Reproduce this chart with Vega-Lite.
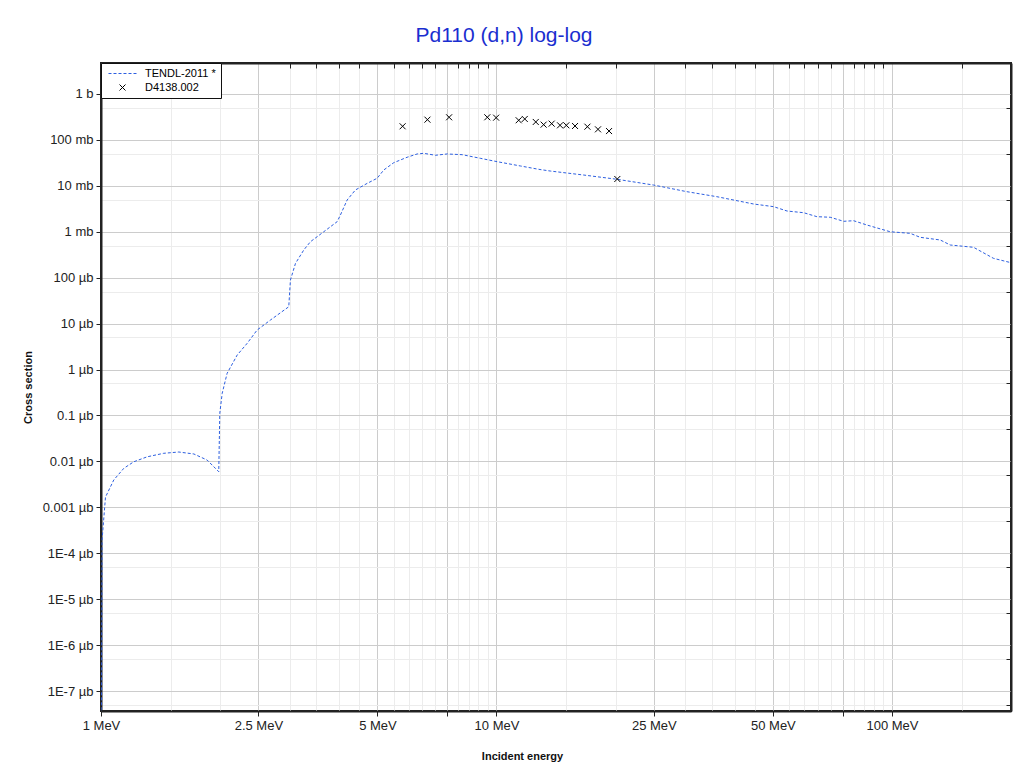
{
  "$schema": "https://vega.github.io/schema/vega-lite/v6.json",
  "autosize": {"type": "none"},
  "padding": {"left": 101, "top": 63, "right": 9, "bottom": 62},
  "width": 910,
  "height": 648,
  "background": "white",
  "title": {"text": "Pd110 (d,n) log-log", "color": "#1a2ed0", "font": "Liberation Sans", "fontSize": 21, "fontWeight": "normal", "anchor": "middle", "dx": -52, "offset": 17},
  "config": {
    "view": {"stroke": "#222", "strokeWidth": 2},
    "axis": {"labelFont": "Liberation Sans", "labelFontSize": 13, "labelColor": "#222", "domainColor": "#222", "domainWidth": 2, "tickColor": "#222", "titleFont": "Liberation Sans", "titleFontSize": 11, "titleFontWeight": "bold", "titleColor": "#111"},
    "legend": {"labelFont": "Liberation Sans"}
  },
  "datasets": {
    "tendl": [
      {"E": 1.0005, "xs": 3.8e-14},
      {"E": 1.003, "xs": 5e-14},
      {"E": 1.006, "xs": 1.9e-10},
      {"E": 1.0265, "xs": 1.67e-9},
      {"E": 1.077, "xs": 3.93e-9},
      {"E": 1.142, "xs": 7.06e-9},
      {"E": 1.21, "xs": 9.8e-9},
      {"E": 1.309, "xs": 1.26e-8},
      {"E": 1.441, "xs": 1.5e-8},
      {"E": 1.573, "xs": 1.6e-8},
      {"E": 1.717, "xs": 1.45e-8},
      {"E": 1.855, "xs": 1.07e-8},
      {"E": 1.985, "xs": 5.96e-9},
      {"E": 1.997, "xs": 1.11e-7},
      {"E": 2.025, "xs": 3.03e-7},
      {"E": 2.084, "xs": 8.27e-7},
      {"E": 2.21, "xs": 2.07e-6},
      {"E": 2.342, "xs": 3.72e-6},
      {"E": 2.482, "xs": 7.25e-6},
      {"E": 2.683, "xs": 1.2e-5},
      {"E": 2.984, "xs": 2.33e-5},
      {"E": 3.013, "xs": 8.9e-5},
      {"E": 3.103, "xs": 2.05e-4},
      {"E": 3.256, "xs": 4.0e-4},
      {"E": 3.385, "xs": 6.07e-4},
      {"E": 3.658, "xs": 1.0e-3},
      {"E": 3.955, "xs": 1.66e-3},
      {"E": 4.031, "xs": 2.32e-3},
      {"E": 4.192, "xs": 4.92e-3},
      {"E": 4.398, "xs": 8.12e-3},
      {"E": 4.709, "xs": 1.13e-2},
      {"E": 4.991, "xs": 1.46e-2},
      {"E": 5.187, "xs": 2.21e-2},
      {"E": 5.498, "xs": 3.19e-2},
      {"E": 5.943, "xs": 4.19e-2},
      {"E": 6.3, "xs": 4.94e-2},
      {"E": 6.546, "xs": 5.11e-2},
      {"E": 7.01, "xs": 4.63e-2},
      {"E": 7.5, "xs": 4.94e-2},
      {"E": 8.19, "xs": 4.77e-2},
      {"E": 9.1, "xs": 3.98e-2},
      {"E": 10.04, "xs": 3.36e-2},
      {"E": 11.49, "xs": 2.71e-2},
      {"E": 12.79, "xs": 2.29e-2},
      {"E": 13.68, "xs": 2.1e-2},
      {"E": 16.61, "xs": 1.72e-2},
      {"E": 20.18, "xs": 1.39e-2},
      {"E": 24.97, "xs": 1.04e-2},
      {"E": 30.33, "xs": 7.45e-3},
      {"E": 36.1, "xs": 5.8e-3},
      {"E": 44.7, "xs": 4.02e-3},
      {"E": 50.2, "xs": 3.52e-3},
      {"E": 54.3, "xs": 2.83e-3},
      {"E": 59.8, "xs": 2.6e-3},
      {"E": 64.6, "xs": 2.13e-3},
      {"E": 69.8, "xs": 2.07e-3},
      {"E": 75.5, "xs": 1.69e-3},
      {"E": 80.0, "xs": 1.74e-3},
      {"E": 86.5, "xs": 1.4e-3},
      {"E": 99.0, "xs": 1.0e-3},
      {"E": 111.2, "xs": 9.25e-4},
      {"E": 117.9, "xs": 7.57e-4},
      {"E": 132.5, "xs": 6.62e-4},
      {"E": 140.4, "xs": 5.15e-4},
      {"E": 160.8, "xs": 4.59e-4},
      {"E": 180.6, "xs": 2.64e-4},
      {"E": 200, "xs": 2.12e-4}
    ],
    "exfor": [
      {"E": 5.79, "xs": 0.198, "series": "D4138.002"},
      {"E": 6.69, "xs": 0.276, "series": "D4138.002"},
      {"E": 7.59, "xs": 0.311, "series": "D4138.002"},
      {"E": 9.48, "xs": 0.311, "series": "D4138.002"},
      {"E": 9.98, "xs": 0.305, "series": "D4138.002"},
      {"E": 11.38, "xs": 0.268, "series": "D4138.002"},
      {"E": 11.79, "xs": 0.286, "series": "D4138.002"},
      {"E": 12.57, "xs": 0.246, "series": "D4138.002"},
      {"E": 13.16, "xs": 0.215, "series": "D4138.002"},
      {"E": 13.79, "xs": 0.226, "series": "D4138.002"},
      {"E": 14.48, "xs": 0.208, "series": "D4138.002"},
      {"E": 15.02, "xs": 0.208, "series": "D4138.002"},
      {"E": 15.8, "xs": 0.201, "series": "D4138.002"},
      {"E": 16.98, "xs": 0.194, "series": "D4138.002"},
      {"E": 18.06, "xs": 0.17, "series": "D4138.002"},
      {"E": 19.26, "xs": 0.156, "series": "D4138.002"},
      {"E": 20.21, "xs": 0.0141, "series": "D4138.002"}
    ]
  },
  "layer": [
    {
      "data": {"name": "tendl"},
      "mark": {"type": "line", "color": "#2d5fe0", "strokeWidth": 1, "strokeDash": [3, 2], "clip": true},
      "encoding": {
        "x": {"field": "E", "type": "quantitative", "scale": {"type": "log", "domain": [1, 200], "nice": false},
          "axis": {"orient": "bottom", "title": "Incident energy", "titleX": 421, "titlePadding": 18, "values": [1, 2.5, 5, 7.5, 10, 25, 50, 75, 100],
            "labelExpr": "datum.value == 7.5 || datum.value == 75 ? '' : datum.value + ' MeV'", "grid": true, "gridColor": "#cccccc", "gridWidth": 1, "tickSize": 5, "labelPadding": 3, "labelFlush": false}},
        "y": {"field": "xs", "type": "quantitative", "scale": {"type": "log", "domain": [3.67e-14, 4.73], "nice": false},
          "axis": {"orient": "left", "title": "Cross section", "titlePadding": 9, "values": [1, 0.1, 0.01, 0.001, 1e-4, 1e-5, 1e-6, 1e-7, 1e-8, 1e-9, 1e-10, 1e-11, 1e-12, 1e-13],
            "labelExpr": "['1 b','100 mb','10 mb','1 mb','100 µb','10 µb','1 µb','0.1 µb','0.01 µb','0.001 µb','1E-4 µb','1E-5 µb','1E-6 µb','1E-7 µb'][-round(log(datum.value)/LN10)]",
            "grid": true, "gridColor": "#cccccc", "tickSize": 5, "labelPadding": 3}}
      }
    },
    {
      "data": {"name": "exfor"},
      "mark": {"type": "point", "filled": false, "strokeWidth": 1, "size": 36, "opacity": 1},
      "encoding": {
        "x": {"field": "E", "type": "quantitative", "scale": {"type": "log", "domain": [1, 200], "nice": false},
          "axis": {"orient": "top", "title": null, "labels": false, "values": [1.5, 2, 3, 3.5, 4, 4.5, 5.5, 6, 6.5, 7, 8, 8.5, 9, 9.5, 15, 20, 30, 35, 40, 45, 55, 60, 65, 70, 80, 85, 90, 95, 150], "grid": true, "gridColor": "#ececec", "tickSize": -5}},
        "y": {"field": "xs", "type": "quantitative", "scale": {"type": "log", "domain": [3.67e-14, 4.73], "nice": false},
          "axis": {"orient": "right", "title": null, "labels": false, "values": [0.5, 0.05, 0.005, 5e-4, 5e-5, 5e-6, 5e-7, 5e-8, 5e-9, 5e-10, 5e-11, 5e-12, 5e-13, 5e-14], "grid": true, "gridColor": "#ececec", "tickSize": -5}},
        "shape": {"field": "series", "type": "nominal",
          "scale": {"domain": ["TENDL-2011 *", "D4138.002"], "range": ["M-4.67,0H-3.67M-3,0H-2M-1.33,0H-0.33M0.33,0H1.33M2,0H3M3.67,0H4.67", "M-1,-1L1,1M-1,1L1,-1"]},
          "legend": {"title": null, "orient": "top-left", "offset": 0, "padding": 5, "strokeColor": "#111", "fillColor": "white", "labelFontSize": 11, "symbolSize": 36, "symbolStrokeWidth": 1, "symbolOffset": 11, "labelOffset": 17, "rowPadding": 2, "symbolFillColor": "transparent"}},
        "color": {"field": "series", "type": "nominal",
          "scale": {"domain": ["TENDL-2011 *", "D4138.002"], "range": ["#2d5fe0", "#000000"]},
          "legend": {"title": null, "orient": "top-left", "offset": 0, "padding": 5, "strokeColor": "#111", "fillColor": "white", "labelFontSize": 11, "symbolSize": 36, "symbolStrokeWidth": 1, "symbolOffset": 11, "labelOffset": 17, "rowPadding": 2, "symbolFillColor": "transparent"}}
      }
    }
  ],
  "resolve": {"axis": {"x": "independent", "y": "independent"}}
}
